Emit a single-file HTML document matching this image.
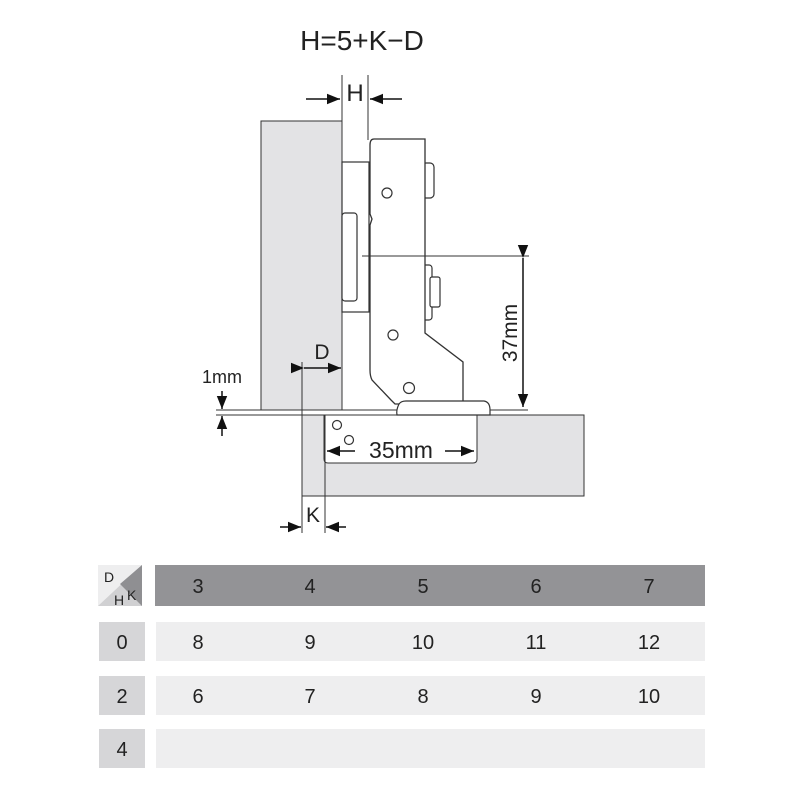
<!DOCTYPE html>
<html><head><style>
body{margin:0;background:#fff;}
svg{display:block}
text{font-family:"Liberation Sans",Arial,sans-serif;fill:#222}
</style></head><body>
<svg width="800" height="800" viewBox="0 0 800 800" xmlns="http://www.w3.org/2000/svg">
<defs>
<marker id="a" viewBox="0 0 10 10" refX="10" refY="5" markerWidth="13" markerHeight="13" markerUnits="userSpaceOnUse" orient="auto"><path d="M0,1 L10,5 L0,9 z" fill="#111"/></marker>
</defs>
<text x="362" y="50" font-size="28" text-anchor="middle">H=5+K−D</text>
<rect x="302" y="415" width="282" height="81" fill="#e3e3e5" stroke="#333" stroke-width="1"/>
<path d="M324,415 V459 Q324,463 328,463 H473 Q477,463 477,459 V415" fill="#fff" stroke="#333" stroke-width="1"/>
<rect x="261" y="121" width="81" height="289" fill="#e3e3e5" stroke="#333" stroke-width="1"/>
<line x1="216" y1="410" x2="261" y2="410" stroke="#333"/>
<line x1="342" y1="410" x2="528" y2="410" stroke="#333"/>
<line x1="216" y1="415" x2="584" y2="415" stroke="#333"/>
<line x1="342" y1="75" x2="342" y2="162" stroke="#333"/>
<line x1="368" y1="75" x2="368" y2="140" stroke="#333"/>
<line x1="302" y1="362" x2="302" y2="533" stroke="#333"/>
<line x1="325" y1="415" x2="325" y2="533" stroke="#333"/>
<rect x="342" y="162" width="27" height="150" fill="#fff" stroke="#333" stroke-width="1.2"/>
<rect x="342" y="213" width="15" height="88" rx="3" fill="#fff" stroke="#333" stroke-width="1.2"/>
<rect x="422" y="163" width="12" height="35" rx="4" fill="#fff" stroke="#333" stroke-width="1.2"/>
<rect x="422" y="265" width="10" height="55" rx="3" fill="#fff" stroke="#333" stroke-width="1.2"/>
<rect x="430" y="277" width="10" height="30" rx="2" fill="#fff" stroke="#333" stroke-width="1.2"/>
<path d="M374,139 H425 V333 L463,362 V404 H395 L391,400 L372,380 Q370,376 370,370 V225 L372,219 L370,214 V145 Q370,139 374,139 Z" fill="#fff" stroke="#333" stroke-width="1.3"/>
<path d="M399,404 Q401,401 406,401 H484 Q490,402 490,410 V415 H397 Q396,410 399,404 Z" fill="#fff" stroke="#333" stroke-width="1.2"/>
<circle cx="387" cy="193" r="5" fill="#fff" stroke="#333" stroke-width="1.2"/>
<circle cx="393" cy="335" r="5" fill="#fff" stroke="#333" stroke-width="1.2"/>
<circle cx="409" cy="388" r="5.5" fill="#fff" stroke="#333" stroke-width="1.2"/>
<circle cx="337" cy="425" r="4.5" fill="#fff" stroke="#333" stroke-width="1.2"/>
<circle cx="349" cy="440" r="4.5" fill="#fff" stroke="#333" stroke-width="1.2"/>
<line x1="362" y1="256" x2="529" y2="256" stroke="#333"/>
<line x1="523" y1="258" x2="523" y2="407" stroke="#111" stroke-width="1.5" marker-start="url(#a)" marker-end="url(#a)"/>
<text transform="translate(517,333) rotate(-90)" font-size="21" text-anchor="middle">37mm</text>
<text x="355" y="101" font-size="24" text-anchor="middle">H</text>
<line x1="306" y1="99" x2="340" y2="99" stroke="#111" stroke-width="1.5" marker-end="url(#a)"/>
<line x1="402" y1="99" x2="370" y2="99" stroke="#111" stroke-width="1.5" marker-end="url(#a)"/>
<text x="322" y="359" font-size="21" text-anchor="middle">D</text>
<line x1="304" y1="368" x2="341" y2="368" stroke="#111" stroke-width="1.5" marker-start="url(#a)" marker-end="url(#a)"/>
<text x="401" y="458" font-size="23" text-anchor="middle">35mm</text>
<line x1="355" y1="451" x2="327" y2="451" stroke="#111" stroke-width="1.5" marker-end="url(#a)"/>
<line x1="445" y1="451" x2="474" y2="451" stroke="#111" stroke-width="1.5" marker-end="url(#a)"/>
<text x="313" y="522" font-size="21" text-anchor="middle">K</text>
<line x1="280" y1="527" x2="301" y2="527" stroke="#111" stroke-width="1.5" marker-end="url(#a)"/>
<line x1="346" y1="527" x2="326" y2="527" stroke="#111" stroke-width="1.5" marker-end="url(#a)"/>
<text x="222" y="383" font-size="18" text-anchor="middle">1mm</text>
<line x1="222" y1="391" x2="222" y2="409" stroke="#111" stroke-width="1.5" marker-end="url(#a)"/>
<line x1="222" y1="436" x2="222" y2="416" stroke="#111" stroke-width="1.5" marker-end="url(#a)"/>
<rect x="98" y="565" width="44" height="41" fill="#eeeeef"/>
<path d="M142,565 V606 H98 Z" fill="#d0d0d2"/>
<path d="M142,565 V606 L120,584 Z" fill="#8f8f92"/>
<text x="104" y="582" font-size="14">D</text>
<text x="127" y="600" font-size="14">K</text>
<text x="114" y="605" font-size="14">H</text>
<rect x="155" y="565" width="550" height="41" fill="#939396"/>
<rect x="99" y="622" width="46" height="39" fill="#d6d6d8"/>
<rect x="99" y="676" width="46" height="39" fill="#d6d6d8"/>
<rect x="99" y="729" width="46" height="39" fill="#d6d6d8"/>
<rect x="156" y="622" width="549" height="39" fill="#eeeeef"/>
<rect x="156" y="676" width="549" height="39" fill="#eeeeef"/>
<rect x="156" y="729" width="549" height="39" fill="#eeeeef"/>
<g font-size="20" text-anchor="middle">
<text x="122" y="649">0</text><text x="122" y="703">2</text><text x="122" y="756">4</text>
<text x="198" y="593">3</text><text x="310" y="593">4</text><text x="423" y="593">5</text><text x="536" y="593">6</text><text x="649" y="593">7</text>
<text x="198" y="649">8</text><text x="310" y="649">9</text><text x="423" y="649">10</text><text x="536" y="649">11</text><text x="649" y="649">12</text>
<text x="198" y="703">6</text><text x="310" y="703">7</text><text x="423" y="703">8</text><text x="536" y="703">9</text><text x="649" y="703">10</text>
</g>
</svg>
</body></html>
